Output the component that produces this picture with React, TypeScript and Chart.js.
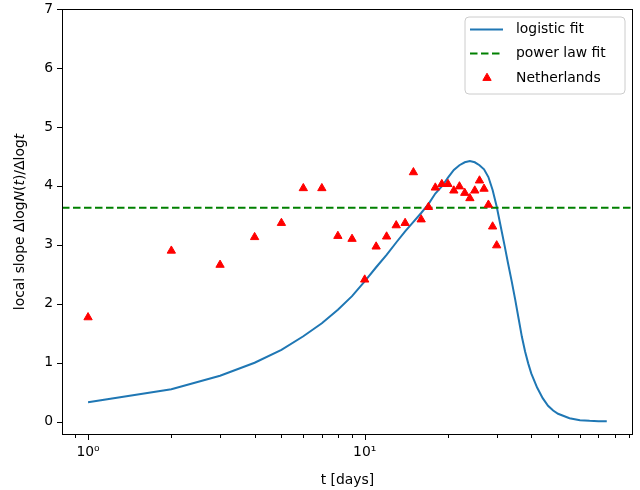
import React, { useEffect, useRef } from "react";
import { Chart, registerables } from "chart.js";

Chart.register(...registerables);

// ---- data ----
const days = [1, 2, 3, 4, 5, 6, 7, 8, 9, 10, 11, 12, 13, 14, 15, 16, 17, 18, 19, 20, 21, 22, 23, 24, 25, 26, 27, 28, 29, 30];
const netherlands = [1.77, 2.9, 2.66, 3.13, 3.37, 3.96, 3.96, 3.15, 3.1, 2.41, 2.97, 3.14, 3.33, 3.37, 4.23, 3.43, 3.64, 3.97, 4.03, 4.03, 3.92, 3.99, 3.88, 3.79, 3.92, 4.09, 3.95, 3.68, 3.31, 2.99];

const fitDays = [1, 2, 3, 4, 5, 6, 7, 8, 9, 10, 11, 12, 13, 14, 15, 16, 17, 18, 19, 20, 21, 22, 23, 24, 25, 26, 27, 28, 29, 30, 31, 32, 33, 34, 35, 36, 37, 38, 39, 40, 42, 44, 46, 48, 50, 55, 60, 65, 70, 75];
const logisticFit = [0.33, 0.55, 0.78, 1.0, 1.22, 1.45, 1.67, 1.9, 2.13, 2.38, 2.62, 2.83, 3.04, 3.23, 3.39, 3.54, 3.69, 3.87, 3.99, 4.14, 4.27, 4.35, 4.4, 4.42, 4.4, 4.35, 4.28, 4.15, 3.93, 3.65, 3.32, 3.0, 2.68, 2.38, 2.07, 1.75, 1.44, 1.19, 0.99, 0.82, 0.58, 0.4, 0.27, 0.19, 0.135, 0.06, 0.025, 0.015, 0.01, 0.01];

const powerLawLevel = 3.63;

const xTickValues = [0.9, 1, 2, 3, 4, 5, 6, 7, 8, 9, 10, 20, 30, 40, 50, 60, 70, 80, 90];
const xTickLabels: Record<number, string> = { 1: "10\u2070", 10: "10\u00b9" };
const yTickValues = [0, 1, 2, 3, 4, 5, 6, 7];

const X_MIN = 0.805;
const X_MAX = 93.3;
const Y_MIN = -0.225;
const Y_MAX = 7;

const FONT = "'DejaVu Sans', sans-serif";
const FONT_SIZE = 13.9;

const framePlugin = {
  id: "mplFrame",
  afterDraw(chart: any) {
    const ctx = chart.ctx as CanvasRenderingContext2D;
    const { left, right, top, bottom } = chart.chartArea;
    const xs = chart.scales.x;
    const ys = chart.scales.y;
    ctx.save();
    // frame
    ctx.strokeStyle = "#000";
    ctx.lineWidth = 1;
    ctx.strokeRect(Math.round(left) + 0.5, Math.round(top) + 0.5, Math.round(right - left) - 1, Math.round(bottom - top) - 1);
    // x ticks
    ctx.beginPath();
    for (const v of xTickValues) {
      const px = Math.round(xs.getPixelForValue(v)) + 0.5;
      const major = Math.abs(Math.log10(v) - Math.round(Math.log10(v))) < 1e-9;
      const len = major ? 5 : 3;
      ctx.moveTo(px, Math.round(bottom));
      ctx.lineTo(px, Math.round(bottom) + len);
    }
    // y ticks
    for (const v of yTickValues) {
      const py = Math.round(ys.getPixelForValue(v)) + 0.5;
      ctx.moveTo(Math.round(left) - 5, py);
      ctx.lineTo(Math.round(left), py);
    }
    ctx.stroke();

    // x title
    ctx.fillStyle = "#000";
    ctx.font = `${FONT_SIZE}px ${FONT}`;
    ctx.textAlign = "center";
    ctx.textBaseline = "middle";
    ctx.fillText("t [days]", (left + right) / 2, 480);

    // y title with mathtext-like segments
    const segs: [string, boolean][] = [
      ["local slope ", false],
      ["\u0394log", false],
      ["N", true],
      ["(", false],
      ["t", true],
      [")/\u0394log", false],
      ["t", true],
    ];
    const fontFor = (it: boolean) => `${it ? "oblique " : ""}${FONT_SIZE}px ${FONT}`;
    let total = 0;
    for (const [s, it] of segs) {
      ctx.font = fontFor(it);
      total += ctx.measureText(s).width;
    }
    ctx.translate(20, (top + bottom) / 2);
    ctx.rotate(-Math.PI / 2);
    ctx.textAlign = "left";
    ctx.textBaseline = "middle";
    let cx = -total / 2;
    for (const [s, it] of segs) {
      ctx.font = fontFor(it);
      ctx.fillText(s, cx, 0);
      cx += ctx.measureText(s).width;
    }
    ctx.setTransform(1, 0, 0, 1, 0, 0);

    // legend
    const lx = 465, ly = 17, lw = 160, lh = 77, r = 4;
    ctx.beginPath();
    ctx.moveTo(lx + r, ly);
    ctx.arcTo(lx + lw, ly, lx + lw, ly + lh, r);
    ctx.arcTo(lx + lw, ly + lh, lx, ly + lh, r);
    ctx.arcTo(lx, ly + lh, lx, ly, r);
    ctx.arcTo(lx, ly, lx + lw, ly, r);
    ctx.closePath();
    ctx.fillStyle = "rgba(255,255,255,0.8)";
    ctx.fill();
    ctx.strokeStyle = "#cccccc";
    ctx.lineWidth = 1;
    ctx.stroke();

    const ds = chart.data.datasets;
    const rows = [29, 53, 78];
    ds.forEach((d: any, i: number) => {
      const y = rows[i];
      ctx.save();
      if (d.showLine === false) {
        ctx.fillStyle = d.pointBackgroundColor;
        const rad = 4.8;
        const cxp = 487;
        ctx.beginPath();
        ctx.moveTo(cxp, y - rad);
        ctx.lineTo(cxp + rad * 0.866, y + rad * 0.5);
        ctx.lineTo(cxp - rad * 0.866, y + rad * 0.5);
        ctx.closePath();
        ctx.fill();
        ctx.strokeStyle = d.pointBorderColor;
        ctx.lineWidth = 1;
        ctx.stroke();
      } else {
        ctx.strokeStyle = d.borderColor;
        ctx.lineWidth = d.borderWidth;
        ctx.setLineDash(d.borderDash || []);
        ctx.beginPath();
        ctx.moveTo(470, y + 0.5);
        ctx.lineTo(503, y + 0.5);
        ctx.stroke();
      }
      ctx.restore();
      ctx.fillStyle = "#000";
      ctx.font = `${FONT_SIZE}px ${FONT}`;
      ctx.textAlign = "left";
      ctx.textBaseline = "middle";
      ctx.fillText(d.label, 516, y);
    });
    ctx.restore();
  },
};

export default function App() {
  const canvasRef = useRef<HTMLCanvasElement | null>(null);

  useEffect(() => {
    document.body.style.margin = "0";
    const canvas = canvasRef.current;
    if (!canvas) return;
    const chart = new Chart(canvas, {
      type: "scatter",
      data: {
        datasets: [
          {
            label: "logistic fit",
            data: fitDays.map((t, i) => ({ x: t, y: logisticFit[i] })),
            showLine: true,
            borderColor: "#1f77b4",
            backgroundColor: "#1f77b4",
            borderWidth: 2,
            pointRadius: 0,
            tension: 0,
            order: 2,
          } as any,
          {
            label: "power law fit",
            data: [
              { x: X_MIN, y: powerLawLevel },
              { x: X_MAX, y: powerLawLevel },
            ],
            showLine: true,
            borderColor: "#008000",
            backgroundColor: "#008000",
            borderWidth: 2,
            borderDash: [7.5, 3.5],
            pointRadius: 0,
            order: 1,
          } as any,
          {
            label: "Netherlands",
            data: days.map((t, i) => ({ x: t, y: netherlands[i] })),
            showLine: false,
            pointStyle: "triangle",
            pointRadius: 4.8,
            pointBackgroundColor: "#ff0000",
            pointBorderColor: "#ff0000",
            pointBorderWidth: 1,
            order: 0,
          } as any,
        ],
      },
      options: {
        responsive: false,
        animation: false,
        devicePixelRatio: 1,
        layout: { padding: { left: 0, right: 7, top: 9, bottom: 0 } },
        plugins: {
          legend: { display: false },
          tooltip: { enabled: false },
        },
        scales: {
          x: {
            type: "logarithmic",
            min: X_MIN,
            max: X_MAX,
            afterBuildTicks: (s: any) => {
              s.ticks = xTickValues.map((v) => ({ value: v }));
            },
            afterFit: (s: any) => {
              s.height = 55;
              s.paddingLeft = 0;
              s.paddingRight = 0;
            },
            ticks: {
              autoSkip: false,
              maxRotation: 0,
              padding: 4,
              color: "#000",
              font: { family: FONT, size: FONT_SIZE },
              callback: (v: any) => xTickLabels[Number(v)] ?? "",
            },
            grid: { display: false, drawTicks: true, tickLength: 5 },
            border: { display: false },
          },
          y: {
            type: "linear",
            min: Y_MIN,
            max: Y_MAX,
            afterBuildTicks: (s: any) => {
              s.ticks = yTickValues.map((v) => ({ value: v }));
            },
            afterFit: (s: any) => {
              s.width = 62;
              s.paddingTop = 0;
              s.paddingBottom = 0;
            },
            ticks: {
              padding: 4,
              color: "#000",
              font: { family: FONT, size: FONT_SIZE },
              callback: (v: any) => String(v),
            },
            grid: { display: false, drawTicks: true, tickLength: 5 },
            border: { display: false },
          },
        },
      },
      plugins: [framePlugin],
    });
    return () => chart.destroy();
  }, []);

  return (
    <div style={{ position: "absolute", left: 0, top: 0, width: 640, height: 490, background: "#fff" }}>
      <canvas ref={canvasRef} width={640} height={490} />
    </div>
  );
}
